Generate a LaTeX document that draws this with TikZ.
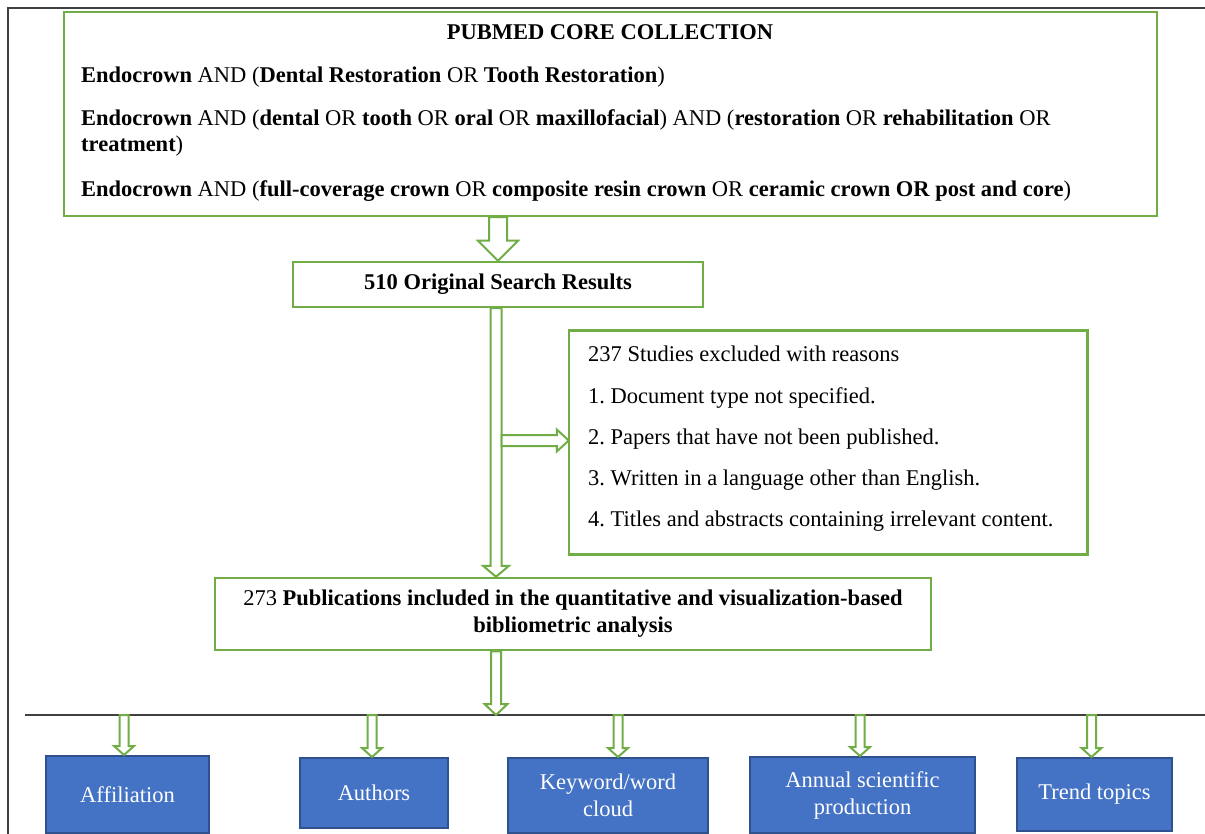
\documentclass[tikz,border=0pt]{standalone}
\usepackage{fontspec}
\setmainfont{Liberation Serif}
\usetikzlibrary{calc}
\definecolor{gr}{RGB}{112,173,71}
\definecolor{bl}{RGB}{68,114,196}
\definecolor{bld}{RGB}{47,82,143}
\definecolor{framec}{RGB}{64,64,64}
\frenchspacing
\newcommand\fs{\fontsize{22.5}{27}\selectfont\frenchspacing}
\tikzset{
 greenbox/.style={draw=gr, line width=2.5pt, fill=white, inner sep=0pt, rectangle, font=\fs, align=center},
 bluebox/.style={draw=bld, line width=2pt, fill=bl, text=white, align=center, inner sep=0pt, font=\fs},
 txt/.style={inner sep=0pt, anchor=base west, font=\fs},
 hollow/.style={draw=gr, line width=2pt, fill=white, line join=miter},
 framel/.style={draw=framec, line width=1.5pt}
}
\newcommand\arrdown[5]{\draw[hollow] let \p1=(#1), \p2=(#2) in
 (\x2-#3pt,\y1) -- (\x2-#3pt,\y2+#5pt) -- (\x2-#4pt,\y2+#5pt) -- (\x2,\y2) -- (\x2+#4pt,\y2+#5pt) -- (\x2+#3pt,\y2+#5pt) -- (\x2+#3pt,\y1) -- cycle;}
\newcommand\arrright[5]{\draw[hollow] let \p1=(#1), \p2=(#2) in
 (\x1,\y2+#3pt) -- (\x2-#5pt,\y2+#3pt) -- (\x2-#5pt,\y2+#4pt) -- (\x2,\y2) -- (\x2-#5pt,\y2-#4pt) -- (\x2-#5pt,\y2-#3pt) -- (\x1,\y2-#3pt) -- cycle;}
\begin{document}
\begin{tikzpicture}[x=1pt,y=-1pt]
\useasboundingbox (0,0) rectangle (1205,834);
\fill[white] (0,0) rectangle (1205,834);
% frame
\coordinate (ftl) at (8,8);
\coordinate (ftr) at (1205,8);
\coordinate (fbl) at (8,834);
\draw[framel] (fbl) -- (ftl) -- (ftr);
% horizontal divider
\coordinate (hl) at (25,715);
\coordinate (hr) at (1205,715);
\coordinate (hmid) at (496,715);
\draw[framel] (hl) -- (hr);

% node placement (boxes)
\path
 node[greenbox, minimum width=1093pt, minimum height=204pt] (top) at (610.5,114) {}
 node[greenbox, minimum width=410pt, minimum height=45pt] (res) at (498,284.5) {\textbf{510 Original Search Results}}
 node[greenbox, minimum width=516pt, minimum height=221pt] (ex) at (828,442.5) {}
 node[greenbox, minimum width=716pt, minimum height=72pt] (inc) at (573,614) {273 \textbf{Publications included in the quantitative and visualization-based}\\ \textbf{bibliometric analysis}};

% arrows
\arrdown{top.south}{res.north}{9}{20}{20}
\arrdown{res.south}{$(inc.north -| res.south)+(-2,0)$}{5.5}{13}{11}
\coordinate (split) at (501.5,440.5);
\arrright{split}{ex.west |- split}{5.5}{11}{12}
\arrdown{inc.south}{hmid}{5}{11.5}{11}

% redraw boxes over arrow ends
\path
 node[greenbox, minimum width=1093pt, minimum height=204pt] at (top) {}
 node[greenbox, minimum width=410pt, minimum height=45pt] at (res) {\textbf{510 Original Search Results}}
 node[greenbox, minimum width=716pt, minimum height=72pt] at (inc) {273 \textbf{Publications included in the quantitative and visualization-based}\\ \textbf{bibliometric analysis}};
\draw[greenbox] (ex.north west) rectangle (ex.south east);

% top box texts
\node[txt, anchor=base] (title) at (610,40) {\textbf{PUBMED CORE COLLECTION}};
\node[txt] (q1) at (81,83) {\textbf{Endocrown} AND (\textbf{Dental Restoration} OR \textbf{Tooth Restoration})};
\node[txt] (q2) at (81,125.5) {\textbf{Endocrown} AND (\textbf{dental} OR \textbf{tooth} OR \textbf{oral} OR \textbf{maxillofacial}) AND (\textbf{restoration} OR \textbf{rehabilitation} OR};
\node[txt] (q2b) at (81,152) {\textbf{treatment})};
\node[txt] (q3) at (81,196.5) {\textbf{Endocrown} AND (\textbf{full-coverage crown} OR \textbf{composite resin crown} OR \textbf{ceramic crown OR post and core})};

% exclusion texts
\node[txt] (e0) at (588,362) {237 Studies excluded with reasons};
\node[txt] (e1) at (588,403) {1. Document type not specified.};
\node[txt] (e2) at (588,444) {2. Papers that have not been published.};
\node[txt] (e3) at (588,485) {3. Written in a language other than English.};
\node[txt] (e4) at (588,526) {4. Titles and abstracts containing irrelevant content.};

% blue boxes
\node[bluebox, minimum width=163pt, minimum height=77pt] (aff) at (127.5,794.5) {Affiliation};
\node[bluebox, minimum width=148pt, minimum height=70pt] (auth) at (374,793) {Authors};
\node[bluebox, minimum width=200pt, minimum height=75pt] (kw) at (608,795.5) {Keyword/word\\cloud};
\node[bluebox, minimum width=225pt, minimum height=76pt] (ann) at (862.5,795) {Annual scientific\\production};
\node[bluebox, minimum width=155pt, minimum height=73pt] (trend) at (1094.5,794.5) {Trend topics};

% small arrows
\arrdown{hmid}{[xshift=-3.5pt]aff.north}{4.5}{10}{9}
\arrdown{hmid}{[xshift=-2pt]auth.north}{4.5}{10}{9}
\arrdown{hmid}{[xshift=10pt]kw.north}{4.5}{10}{9}
\arrdown{hmid}{[xshift=-2.5pt]ann.north}{4.5}{10}{9}
\arrdown{hmid}{[xshift=-3pt]trend.north}{4.5}{10}{9}
\end{tikzpicture}
\end{document}
